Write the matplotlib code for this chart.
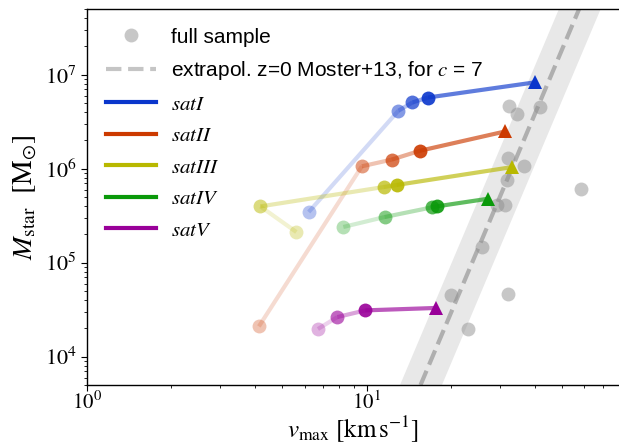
import numpy as np
import matplotlib
matplotlib.use("Agg")
import matplotlib.pyplot as plt
from matplotlib.lines import Line2D

plt.rcParams['mathtext.fontset'] = 'stix'
plt.rcParams['font.family'] = ['Liberation Sans', 'DejaVu Sans']

# ---------------- data ----------------
sat_names = ['satI', 'satII', 'satIII', 'satIV', 'satV']
sat_colors = ['#0a36cc', '#cc3a00', '#b8b800', '#0a990a', '#990099']

satI_v = [6.21, 13.0, 14.6, 16.6]
satI_M = [3.46e5, 4.14e6, 5.07e6, 5.72e6]
satII_v = [4.12, 9.62, 12.3, 15.5]
satII_M = [2.10e4, 1.06e6, 1.25e6, 1.55e6]
satIII_v = [5.61, 4.17, 11.5, 12.8]
satIII_M = [2.12e5, 3.97e5, 6.38e5, 6.71e5]
satIV_v = [8.26, 11.6, 17.2, 17.9]
satIV_M = [2.40e5, 3.06e5, 3.89e5, 3.98e5]
satV_v = [6.70, 7.86, 9.89]
satV_M = [1.97e4, 2.64e4, 3.11e4]

# z=0 values (triangles)
z0_v = [39.9, 31.3, 33.1, 27.3, 17.7]
z0_M = [8.28e6, 2.49e6, 1.04e6, 4.80e5, 3.30e4]

# full sample
full_v = [32.4, 34.5, 41.7, 32.0, 36.5, 31.7, 29.3, 31.3, 58.7, 25.8, 20.1, 32.0, 23.1]
full_M = [4.68e6, 3.82e6, 4.49e6, 1.30e6, 1.06e6, 7.52e5, 4.08e5, 4.08e5,
          6.08e5, 1.46e5, 4.49e4, 4.65e4, 1.97e4]

# extrapolated Moster+13 relation (c = 7) and its band
moster_M = [5e3, 5e7]
moster_v = [15.6, 57.6]
moster_vlo = [13.1, 48.5]
moster_vhi = [18.5, 68.4]

sat_v = [satI_v, satII_v, satIII_v, satIV_v, satV_v]
sat_M = [satI_M, satII_M, satIII_M, satIV_M, satV_M]

# ---------------- figure ----------------
fig = plt.figure(figsize=(6.19, 4.43), dpi=100)
ax = fig.add_axes([87/619, 58/443, 532/619, 376/443])
ax.set_xscale('log')
ax.set_yscale('log')

ax.fill_betweenx(moster_M, moster_vlo, moster_vhi, color='#e8e8e8', lw=0, zorder=0)
ax.plot(moster_v, moster_M, ls='--', color='gray', alpha=0.55, lw=3, zorder=1)

ax.plot(full_v, full_M, 'o', color='#909090', alpha=0.5, ms=10, mew=0, zorder=2)

for v, M, zv, zM, col in zip(sat_v, sat_M, z0_v, z0_M, sat_colors):
    n = len(v)
    pa = np.linspace(0.3, 0.9, n)
    pv = list(v) + [zv]
    pM = list(M) + [zM]
    for i in range(n):
        if i < n - 1:
            sa = 0.6 * min(pa[i], pa[i + 1])
        else:
            sa = 0.65
        ax.plot(pv[i:i + 2], pM[i:i + 2], '-', color=col, alpha=sa, lw=3,
                solid_capstyle='butt', zorder=3)
    for i in range(n):
        ax.plot([v[i]], [M[i]], 'o', color=col, alpha=pa[i], ms=10, mew=0, zorder=4)
    ax.plot([zv], [zM], '^', color=col, ms=10, mew=0, zorder=5)

ax.set_xlim(1, 80)
ax.set_ylim(5e3, 5e7)

ax.spines['right'].set_visible(False)
for s in ['left', 'bottom', 'top']:
    ax.spines[s].set_linewidth(1.0)
ax.tick_params(which='both', right=False, top=False, direction='out')
ax.tick_params(which='major', length=4, labelsize=16)
ax.tick_params(axis='x', which='major', pad=1, labelsize=15)
ax.tick_params(which='minor', length=2.5)
for lab in ax.get_xticklabels() + ax.get_yticklabels():
    lab.set_fontfamily('STIXGeneral')

ax.set_xlabel(r'$v_{\rm max}\ [{\rm km\,s^{-1}}]$', fontsize=18, labelpad=-1)
ax.set_ylabel(r'$M_{\rm star}\ \ [{\rm M_{\odot}}]$', fontsize=20, labelpad=4)

handles = [Line2D([], [], ls='none', marker='o', color='#909090', alpha=0.5, ms=10, mew=0),
           Line2D([], [], ls='--', color='gray', alpha=0.45, lw=3)]
labels = ['full sample', r'extrapol. z=0 Moster+13, for $c$ = 7']
for name, col in zip(sat_names, sat_colors):
    handles.append(Line2D([], [], color=col, lw=3))
    labels.append('$' + name + '$')
leg = ax.legend(handles, labels, loc='upper left', frameon=False, fontsize=15,
                handlelength=2.4, handletextpad=0.75, labelspacing=0.6,
                borderpad=0.4, borderaxespad=0.5)

fig.savefig('out.png', dpi=100)
